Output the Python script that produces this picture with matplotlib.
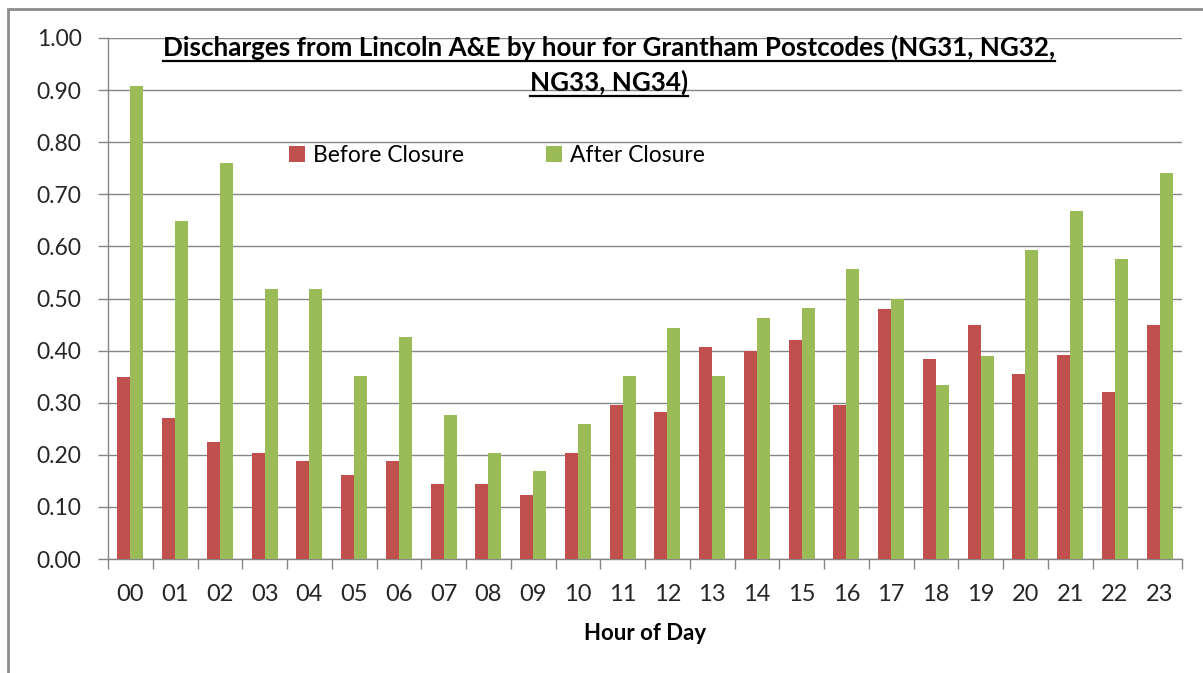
import numpy as np
import matplotlib.pyplot as plt
from matplotlib.patches import Rectangle
from matplotlib.lines import Line2D

# Datos
#--------------------------------------
hours  = ["00","01","02","03","04","05","06","07","08","09","10","11",
          "12","13","14","15","16","17","18","19","20","21","22","23"]
before = [0.35,0.27,0.225,0.203,0.189,0.161,0.189,0.144,0.144,0.123,0.203,0.296,
          0.282,0.406,0.400,0.420,0.296,0.480,0.384,0.449,0.356,0.392,0.321,0.449]
after  = [0.908,0.649,0.760,0.518,0.518,0.351,0.427,0.277,0.203,0.168,0.260,0.351,
          0.443,0.351,0.463,0.482,0.556,0.500,0.334,0.389,0.594,0.667,0.575,0.741]
yTicks = [0.0,0.1,0.2,0.3,0.4,0.5,0.6,0.7,0.8,0.9,1.0]
title1 = "Discharges from Lincoln A&E by hour for Grantham Postcodes (NG31, NG32,"
title2 = "NG33, NG34)"
#--------------------------------------

plt.rcParams['font.family'] = ['Lato', 'DejaVu Sans']
red   = '#C0504D'
green = '#9BBB59'
grey  = '#868686'

W, H = 1203, 673
fig = plt.figure(figsize=(W/100, H/100), dpi=100)
ax  = fig.add_axes([108/W, 1-559/H, (1182-108)/W, (559-38)/H])

x  = np.arange(len(hours))
bw = 0.29
ax.bar(x-bw/2, before, bw, color=red,   label="Before Closure", zorder=3)
ax.bar(x+bw/2, after,  bw, color=green, label="After Closure",  zorder=3)

ax.set_xlim(-0.5, len(hours)-0.5)
ax.set_ylim(0, 1.0)
ax.set_yticks(yTicks)
ax.set_yticklabels(["%.2f" % v for v in yTicks])
ax.yaxis.grid(True, color=grey, linewidth=1.0, zorder=0)
ax.set_axisbelow(True)

# ticks en los bordes de categoria, etiquetas en el centro
ax.set_xticks(np.arange(-0.5, len(hours)), minor=False)
ax.set_xticklabels([])
ax.set_xticks(x, minor=True)
ax.set_xticklabels(hours, minor=True)
ax.tick_params(axis='x', which='major', length=7, width=1, color=grey, direction='out')
ax.tick_params(axis='x', which='minor', length=0, pad=18, labelsize=17, labelcolor='#262626')
ax.tick_params(axis='y', length=7, width=1, color=grey, pad=12, labelsize=16.5, labelcolor='#262626')

for s in ['top','right']:
    ax.spines[s].set_visible(False)
for s in ['left','bottom']:
    ax.spines[s].set_color(grey)
    ax.spines[s].set_linewidth(1.0)

ax.set_xlabel("Hour of Day", fontsize=16, fontweight='bold', labelpad=13)

leg = ax.legend(loc='center', bbox_to_anchor=((497-108)/(1182-108), (559-156)/(559-38)),
                ncol=2, frameon=False, fontsize=16.5, handlelength=0.7, handleheight=0.7,
                columnspacing=3.6, handletextpad=0.35)

t1 = fig.text(0.506, 1-56/H, title1, ha='center', va='baseline', fontsize=18.7, fontweight='bold')
t2 = fig.text(0.506, 1-91/H, title2, ha='center', va='baseline', fontsize=18.7, fontweight='bold')

# subrayado del titulo (un poco bajo la linea base)
fig.canvas.draw()
rend = fig.canvas.get_renderer()
for t, base in [(t1, 56), (t2, 91)]:
    bb = t.get_window_extent(rend)
    yy = 1 - (base + 5) / H
    fig.add_artist(Line2D([bb.x0/W, bb.x1/W], [yy, yy], color='black', linewidth=1.6))

# borde del area del grafico
fig.add_artist(Rectangle((8/W, -0.5), 2.0, 0.5+(H-9)/H, fill=False,
                         edgecolor='#8c8c8c', linewidth=2, transform=fig.transFigure))

fig.savefig("out.png", dpi=100)
